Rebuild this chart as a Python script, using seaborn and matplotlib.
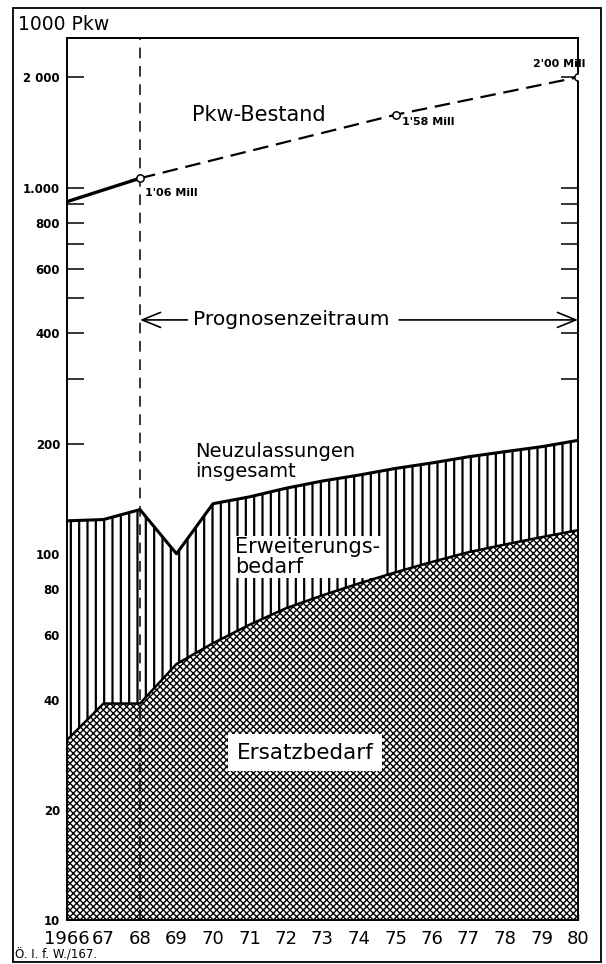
import matplotlib
matplotlib.use("Agg")
import matplotlib.pyplot as plt
from matplotlib.patches import Rectangle
from matplotlib.ticker import FixedLocator, FixedFormatter, NullLocator
import seaborn as sns
import pandas as pd

# ---------------- data ----------------
years = list(range(1966, 1981))
neuzulassungen = [123, 124, 132, 100, 137, 143, 151, 158, 164, 171, 177, 184, 190, 196, 204]
ersatzbedarf = [31, 39, 39, 50, 57, 64, 71, 77, 83, 89, 95, 101, 106, 111, 116]

bestand_years = [1966, 1968, 1975, 1980]
bestand = [915, 1060, 1580, 2000]
bestand_labels = ["1'06 Mill", "1'58 Mill", "2'00 Mill"]

x_labels = ["1966", "67", "68", "69", "70", "71", "72", "73", "74", "75",
            "76", "77", "78", "79", "80"]
y_ticks = [10, 20, 30, 40, 50, 60, 70, 80, 90, 100, 200, 300, 400, 500, 600,
           700, 800, 900, 1000, 2000]
y_tick_labels = ["10", "20", "", "40", "", "60", "", "80", "", "100", "200", "",
                 "400", "", "600", "", "800", "", "1.000", "2 000"]

# ---------------- style ----------------
sns.set_theme(style="white")
plt.rcParams["font.family"] = ["DejaVu Sans"]
plt.rcParams["axes.edgecolor"] = "black"
plt.rcParams["text.color"] = "black"

W, H = 606, 964
fig = plt.figure(figsize=(W / 100, H / 100), dpi=100)
L, R, T, B = 67, 578, 38, 920
ax = fig.add_axes([L / W, 1 - B / H, (R - L) / W, (B - T) / H])

df = pd.DataFrame({"Jahr": years, "Neu": neuzulassungen, "Ersatz": ersatzbedarf})

ax.set_yscale("log")
ax.set_xlim(1966, 1980)
ax.set_ylim(10, 2560)

# Ersatzbedarf crosshatch
with plt.rc_context({"hatch.linewidth": 1.0}):
    ax.fill_between(df["Jahr"], 10, df["Ersatz"], facecolor="white",
                    edgecolor="black", hatch="xxxxx", linewidth=0, zorder=1)
# Erweiterungsbedarf vertical hatch
with plt.rc_context({"hatch.linewidth": 1.6}):
    ax.fill_between(df["Jahr"], df["Ersatz"], df["Neu"], facecolor="white",
                    edgecolor="black", hatch="||", linewidth=0, zorder=1)

sns.lineplot(data=df, x="Jahr", y="Neu", ax=ax, color="black", linewidth=2.2, zorder=3)
sns.lineplot(data=df, x="Jahr", y="Ersatz", ax=ax, color="black", linewidth=1.8, zorder=3)

# Pkw-Bestand
sns.lineplot(x=bestand_years[:2], y=bestand[:2], ax=ax, color="black",
             linewidth=2.4, zorder=4)
sns.lineplot(x=bestand_years[1:], y=bestand[1:], ax=ax, color="black",
             linewidth=1.6, linestyle=(0, (7, 3.5)), zorder=4)
ax.scatter(bestand_years[1:], bestand[1:], s=28, facecolor="white",
           edgecolor="black", linewidth=1.1, zorder=5)

# Beginning of forecast period
ax.axvline(1968, color="black", linewidth=1.1, linestyle=(0, (7, 5)), zorder=4)

# ---------------- ticks ----------------
ax.set_xticks(years)
ax.set_xticklabels(x_labels)
ax.yaxis.set_major_locator(FixedLocator(y_ticks))
ax.yaxis.set_major_formatter(FixedFormatter(y_tick_labels))
ax.yaxis.set_minor_locator(NullLocator())
ax.tick_params(axis="y", which="major", direction="in", left=True, right=True,
               length=12.5, width=1.1, pad=5, labelsize=8.5, colors="black")
for lab in ax.get_yticklabels():
    lab.set_fontweight("bold")
ax.tick_params(axis="x", direction="in", bottom=True, length=4, width=1,
               pad=7, labelsize=13, colors="black")
ax.set_xlabel("")
ax.set_ylabel("")
for s in ax.spines.values():
    s.set_linewidth(1.4)
    s.set_color("black")

# ---------------- annotations ----------------
ax.text(1969.42, 1581, "Pkw-Bestand", fontsize=15, ha="left", va="center", zorder=6)
label_pos = [(1968.14, 968), (1975.18, 1507), (1978.77, 2168)]
for (lx, ly), t in zip(label_pos, bestand_labels):
    ax.text(lx, ly, t, fontsize=8, fontweight="bold", ha="left", va="center", zorder=6)

y_prog = 435
ax.annotate("", xy=(1968, y_prog), xytext=(1969.3, y_prog),
            arrowprops=dict(arrowstyle="->,head_length=1.1,head_width=0.45",
                            color="black", lw=1.2, shrinkA=0, shrinkB=0))
ax.annotate("", xy=(1980, y_prog), xytext=(1975.1, y_prog),
            arrowprops=dict(arrowstyle="->,head_length=1.1,head_width=0.45",
                            color="black", lw=1.2, shrinkA=0, shrinkB=0))
ax.text(1969.45, y_prog, "Prognosenzeitraum", fontsize=14.6, ha="left", va="center", zorder=6)

ax.text(1969.51, 179, "Neuzulassungen\ninsgesamt", fontsize=14, ha="left",
        va="center", linespacing=1.05, zorder=6)
ax.text(1970.6, 98, "Erweiterungs-\nbedarf", fontsize=15, ha="left", va="center",
        linespacing=0.95, zorder=2.5,
        bbox=dict(facecolor="white", edgecolor="none", pad=1.0))
ax.text(1970.65, 28.6, "Ersatzbedarf", fontsize=15.5, ha="left", va="center", zorder=2.5,
        bbox=dict(facecolor="white", edgecolor="none", pad=6))

fig.text(18 / W, 1 - 25 / H, "1000 Pkw", fontsize=13.5, ha="left", va="center")
fig.text(15 / W, 1 - 955 / H, "Ö. I. f. W./167.", fontsize=8.5, ha="left", va="center")

fig.add_artist(Rectangle((13 / W, 1 - 962 / H), (601 - 13) / W, (962 - 8) / H,
                         transform=fig.transFigure, fill=False, edgecolor="black",
                         linewidth=1.3))

fig.savefig("out.png", dpi=100, facecolor="white")
